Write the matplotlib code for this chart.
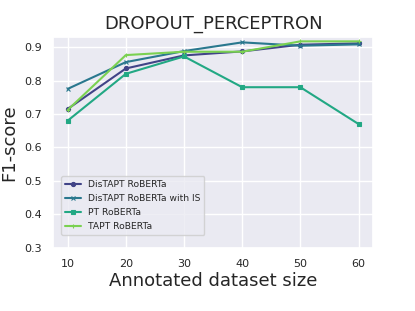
import matplotlib
matplotlib.use("Agg")
import matplotlib.pyplot as plt
import seaborn as sns

sns.set_theme(style="darkgrid")
plt.rcParams['font.family'] = ['DejaVu Sans']

sizes = [10, 20, 30, 40, 50, 60]
distapt = [0.715, 0.836, 0.875, 0.887, 0.907, 0.911]
distapt_is = [0.775, 0.855, 0.888, 0.914, 0.904, 0.908]
pt = [0.680, 0.820, 0.872, 0.780, 0.780, 0.670]
tapt = [0.712, 0.876, 0.886, 0.886, 0.917, 0.917]

labels = ["DisTAPT RoBERTa", "DisTAPT RoBERTa with IS", "PT RoBERTa", "TAPT RoBERTa"]
series = [distapt, distapt_is, pt, tapt]
markers = ["o", "x", "s", "+"]
colors = sns.color_palette("viridis", 4)

fig = plt.figure(figsize=(4.15, 3.11), dpi=100)
ax = fig.add_axes([0.128, 0.203, 0.771, 0.678])

for vals, lab, m, c in zip(series, labels, markers, colors):
    ax.plot(sizes, vals, marker=m, markersize=3, markeredgewidth=0.8,
            color=c, label=lab, linewidth=1.5)

ax.set_ylim(0.3, 0.93)
ax.set_xlim(7.5, 62.5)
ax.set_xticks(sizes)
ax.tick_params(labelsize=8, pad=2)
ax.set_title("DROPOUT_PERCEPTRON", fontsize=13)
ax.set_xlabel("Annotated dataset size", fontsize=13, labelpad=2)
ax.set_ylabel("F1-score", fontsize=13)
ax.legend(loc="lower left", fontsize=6.6, bbox_to_anchor=(0.01, 0.04),
          handlelength=1.8, labelspacing=0.55)

fig.savefig("out.png", dpi=100)
